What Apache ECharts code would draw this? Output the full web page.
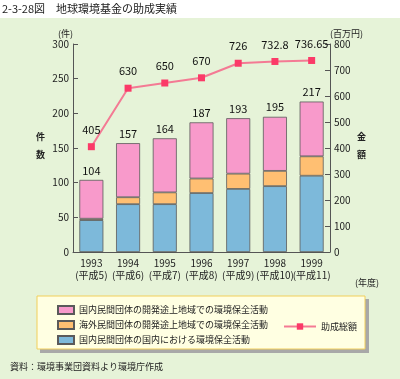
<!DOCTYPE html>
<html><head><meta charset="utf-8">
<script src="https://cdn.jsdelivr.net/npm/echarts@6/dist/echarts.min.js"></script>
<style>html,body{margin:0;padding:0;background:#fff}#c{width:400px;height:379px}</style>
</head><body><div id="c"></div>
<script>
const categories = ['1993\n(平成5)','1994\n(平成6)','1995\n(平成7)','1996\n(平成8)','1997\n(平成9)','1998\n(平成10)','1999\n(平成11)'];
const domesticInland = [46, 69, 69, 85, 91, 95, 110];
const overseasDev = [2, 10, 17, 21, 22, 22, 28];
const domesticDev = [56, 78, 78, 81, 80, 78, 79];
const totals = [104, 157, 164, 187, 193, 195, 217];
const grantTotal = [405, 630, 650, 670, 726, 732.8, 736.65];
const leftTicks = {min:0, max:300, interval:50};
const rightTicks = {min:0, max:800, interval:100};

const FONT = '"Noto Sans CJK JP", sans-serif';
const chart = echarts.init(document.getElementById('c'), null, {renderer:'canvas'});
const axisCol = '#555';
const txtCol = '#222';
chart.setOption({
  backgroundColor: '#ffffff',
  textStyle: {fontFamily: FONT},
  animation: false,
  graphic: [
    {type:'rect', shape:{x:0,y:18,width:400,height:361}, style:{fill:'#e6f3d8'}, z:-10},
    {type:'text', left:2, top:3, style:{text:'2-3-28図　地球環境基金の助成実績', font:'11px '+FONT, fill:'#222'}},
    {type:'text', left:36, top:132, style:{text:'件\n\n数', font:'bold 9px '+FONT, fill:'#222', lineHeight:9}},
    {type:'text', left:357, top:132, style:{text:'金\n\n額', font:'bold 9px '+FONT, fill:'#222', lineHeight:9}},
    {type:'text', left:355, top:278, style:{text:'(年度)', font:'9px '+FONT, fill:'#222'}},
    {type:'rect', shape:{x:40,y:299,width:329,height:54}, style:{fill:'#a8a8a8'}, z:-5},
    {type:'rect', shape:{x:37,y:296,width:328,height:53}, style:{fill:'#ffffe2', stroke:'#f2cf5a', lineWidth:1}, z:-4},
    {type:'text', left:10, top:362, style:{text:'資料：環境事業団資料より環境庁作成', font:'9px '+FONT, fill:'#222'}}
  ],
  grid: {left:73, right:70, top:44, bottom:127},
  legend: [
    {data:['国内民間団体の開発途上地域での環境保全活動','海外民間団体の開発途上地域での環境保全活動','国内民間団体の国内における環境保全活動'],
     orient:'vertical', left:52, top:300, itemWidth:16, itemHeight:8, itemGap:5, icon:'rect',
     textStyle:{fontSize:9, color:'#222', fontFamily:FONT}},
    {data:['助成総額'], left:278, top:317, itemWidth:32, itemHeight:8,
     textStyle:{fontSize:9, color:'#222', fontFamily:FONT}}
  ],
  xAxis: {type:'category', data:categories,
    axisLine:{lineStyle:{color:axisCol}},
    axisTick:{inside:true, length:5, lineStyle:{color:axisCol}},
    axisLabel:{fontSize:10, color:txtCol, margin:5, lineHeight:12, interval:0}},
  yAxis: [
    {type:'value', min:leftTicks.min, max:leftTicks.max, interval:leftTicks.interval,
     name:'(件)', nameGap:6, nameTextStyle:{fontSize:9, color:txtCol, align:'right', padding:[0,0,0,0]},
     axisLine:{show:true, lineStyle:{color:axisCol}},
     axisTick:{show:true, inside:true, length:5, lineStyle:{color:axisCol}},
     axisLabel:{fontSize:10, color:txtCol, margin:4},
     splitLine:{show:false}},
    {type:'value', min:rightTicks.min, max:rightTicks.max, interval:rightTicks.interval,
     name:'(百万円)', nameGap:6, nameTextStyle:{fontSize:9, color:txtCol, align:'left', padding:[0,0,0,0]},
     axisLine:{show:true, lineStyle:{color:axisCol}},
     axisTick:{show:true, inside:true, length:5, lineStyle:{color:axisCol}},
     axisLabel:{fontSize:10, color:txtCol, margin:4},
     splitLine:{show:false}}
  ],
  series: [
    {name:'国内民間団体の国内における環境保全活動', type:'bar', stack:'a', data:domesticInland, barWidth:24,
     itemStyle:{color:'#7db9da', borderColor:'#5a5a5a', borderWidth:0.8}},
    {name:'海外民間団体の開発途上地域での環境保全活動', type:'bar', stack:'a', data:overseasDev, barWidth:24,
     itemStyle:{color:'#ffbf72', borderColor:'#5a5a5a', borderWidth:0.8}},
    {name:'国内民間団体の開発途上地域での環境保全活動', type:'bar', stack:'a', data:domesticDev, barWidth:24,
     itemStyle:{color:'#f89acb', borderColor:'#5a5a5a', borderWidth:0.8},
     label:{show:true, position:'top', distance:4, fontSize:11, color:'#111',
       formatter:p => String(totals[p.dataIndex])}},
    {name:'助成総額', type:'line', yAxisIndex:1, data:grantTotal,
     symbol:'rect', symbolSize:7,
     lineStyle:{color:'#f47a94', width:2},
     itemStyle:{color:'#fb3a68'},
     label:{show:true, position:'top', distance:8, fontSize:11, color:'#111'}}
  ]
});
</script></body></html>
